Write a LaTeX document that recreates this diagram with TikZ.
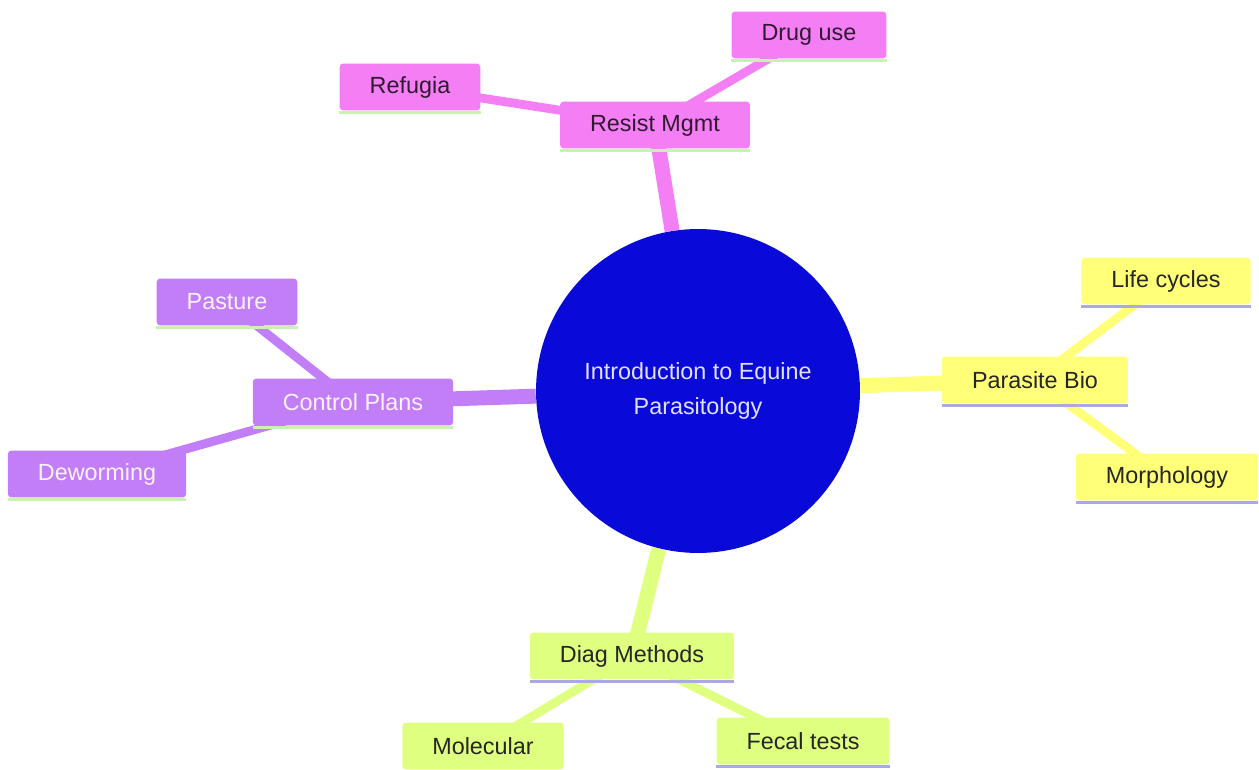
\documentclass[tikz,border=0pt]{standalone}
\usepackage{fontspec}
\setmainfont{Liberation Sans}
\usetikzlibrary{backgrounds}

\definecolor{pinkfill}{HTML}{F47EF4}
\definecolor{purplefill}{HTML}{C27EF7}
\definecolor{yellowfill}{HTML}{FFFF78}
\definecolor{greenfill}{HTML}{DFFF80}
\definecolor{rootfill}{HTML}{0A0AD8}
\definecolor{greenline}{HTML}{C8F2B0}
\definecolor{lavline}{HTML}{ABA8E6}

\begin{document}
\begin{tikzpicture}[x=0.02cm,y=-0.02cm,
    box/.style={rectangle,rounded corners=2pt,inner xsep=0.6cm,inner ysep=0pt,
                minimum height=0.94cm,font=\fontsize{13.3}{16}\selectfont},
    pinkbox/.style={box,fill=pinkfill,text=black!80!pinkfill},
    purplebox/.style={box,fill=purplefill,text=white!90!pinkfill},
    yellowbox/.style={box,fill=yellowfill,text=black!85},
    greenbox/.style={box,fill=greenfill,text=black!85},
    trunk/.style={line width=8.5pt},
    twig/.style={line width=5pt},
    underline/.style={line width=1.8pt}]

  \useasboundingbox (0,0) rectangle (1259,770);

  \node[circle,fill=rootfill,minimum size=6.48cm,text=white!88!blue,align=center,
        font=\fontsize{13.3}{19.8}\selectfont] (root) at (698,391)
        {Introduction to Equine\\Parasitology};

  % resistance branch
  \node[pinkbox] (resist) at (655,125) {Resist Mgmt};
  \node[pinkbox] (drug) at (809,35) {Drug use};
  \node[pinkbox] (refugia) at (410,87) {Refugia};

  % control branch
  \node[purplebox] (control) at (353,402) {Control Plans};
  \node[purplebox] (pasture) at (227,302) {Pasture};
  \node[purplebox] (deworm) at (97,474) {Deworming};

  % biology branch
  \node[yellowbox] (bio) at (1035,380) {Parasite Bio};
  \node[yellowbox] (cycles) at (1166,281) {Life cycles};
  \node[yellowbox] (morph) at (1167,477) {Morphology};

  % diagnosis branch
  \node[greenbox] (diag) at (632,656) {Diag Methods};
  \node[greenbox] (molec) at (483,746) {Molecular};
  \node[greenbox] (fecal) at (803,741) {Fecal tests};

  \begin{scope}[on background layer]
    \path[trunk]
      (root) edge[pinkfill] (resist.center)
             edge[purplefill] (control.center)
             edge[yellowfill] (bio.center)
             edge[greenfill] (diag.center);
    \path[twig]
      (resist.center) edge[pinkfill] (drug.center)
                      edge[pinkfill] (refugia.center)
      (control.center) edge[purplefill] (pasture.center)
                       edge[purplefill] (deworm.center)
      (bio.center) edge[yellowfill] (cycles.center)
                   edge[yellowfill] (morph.center)
      (diag.center) edge[greenfill] (molec.center)
                    edge[greenfill] (fecal.center);
  \end{scope}

  % lines under the boxes
  \foreach \n in {resist,drug,refugia,control,pasture,deworm}
    \draw[underline,greenline] ([yshift=-0.9pt]\n.south west) -- ([yshift=-0.9pt]\n.south east);
  \foreach \n in {bio,cycles,morph,diag,molec,fecal}
    \draw[underline,lavline] ([yshift=-0.9pt]\n.south west) -- ([yshift=-0.9pt]\n.south east);
\end{tikzpicture}
\end{document}
